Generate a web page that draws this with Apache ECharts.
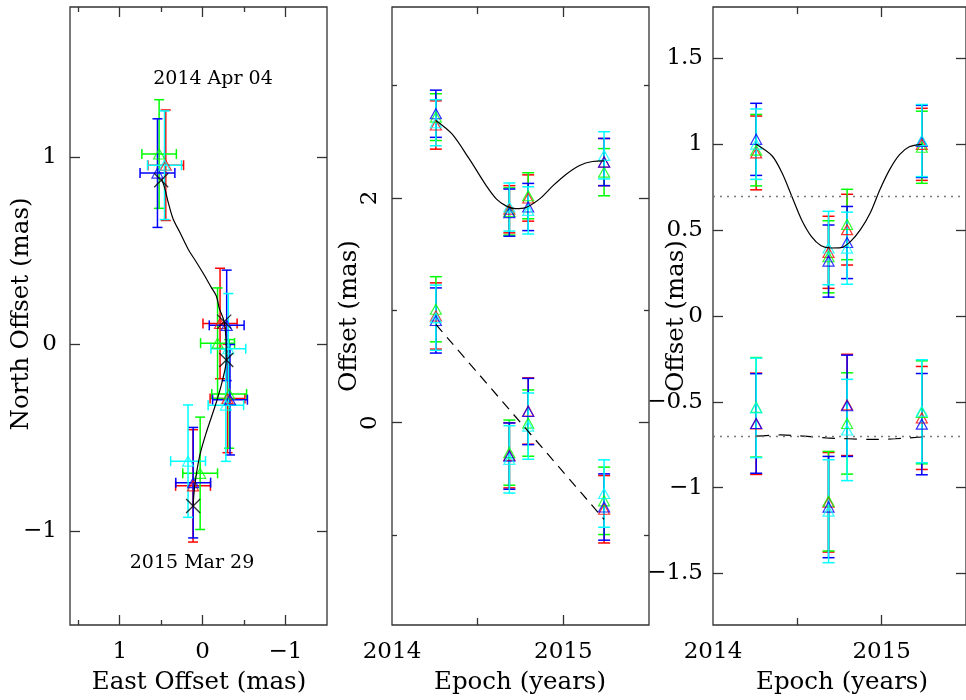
<!DOCTYPE html>
<html>
<head>
<meta charset="utf-8">
<title>Astrometric fit</title>
<script src="https://cdn.jsdelivr.net/npm/echarts@6.0.0/dist/echarts.min.js"></script>
<style>
  html, body { margin: 0; padding: 0; background: #fff; }
  #main { width: 966px; height: 700px; }
</style>
</head>
<body>
<div id="main"></div>
<script>
// bands drawn in this order: red, green, blue, cyan
var bandColors = ['#ff0000', '#00ff00', '#0000ff', '#00ffff'];
var epochs = [2014.256, 2014.685, 2014.795, 2015.238];

// left panel: sky offsets (mas), one row per band
var skyEast = [
  [0.445, -0.300, -0.210, 0.116],
  [0.525, -0.320, -0.180, 0.030],
  [0.545, -0.330, -0.290, 0.114],
  [0.460, -0.280, -0.310, 0.176]
];
var skyNorth = [
  [0.955, -0.290, 0.110, -0.757],
  [1.015, -0.266, 0.005, -0.690],
  [0.913, -0.297, 0.100, -0.740],
  [0.955, -0.326, -0.025, -0.625]
];
var eastErr = [
  [0.215, 0.21, 0.206, 0.21],
  [0.208, 0.21, 0.205, 0.21],
  [0.21, 0.21, 0.21, 0.21],
  [0.205, 0.214, 0.21, 0.21]
];
var northErr = [
  [0.295, 0.29, 0.295, 0.30],
  [0.29, 0.29, 0.295, 0.30],
  [0.29, 0.295, 0.295, 0.295],
  [0.29, 0.30, 0.295, 0.30]
];
// model positions (black crosses) and track
var modelEast = [0.50, -0.26, -0.285, 0.115];
var modelNorth = [0.875, 0.12, -0.085, -0.865];
var trackEast = [0.495, 0.455, 0.416, 0.356, 0.275, 0.176, 0.075, -0.024, -0.104, -0.164, -0.204, -0.26, -0.281, -0.285, -0.243, -0.164, -0.044, 0.036, 0.096, 0.115];
var trackNorth = [0.882, 0.829, 0.758, 0.668, 0.597, 0.508, 0.437, 0.365, 0.303, 0.258, 0.187, 0.12, 0.027, -0.085, -0.187, -0.312, -0.472, -0.597, -0.758, -0.865];

// middle panel: offsets vs epoch (upper = east shifted, lower = north)
var timeEast = [
  [2.65, 1.90, 2.00, 2.32],
  [2.72, 1.88, 2.02, 2.23],
  [2.75, 1.87, 1.92, 2.32],
  [2.67, 1.92, 1.89, 2.38]
];
var timeNorth = [
  [0.95, -0.29, 0.104, -0.77],
  [1.01, -0.266, -0.003, -0.695],
  [0.91, -0.297, 0.10, -0.75],
  [0.935, -0.326, -0.03, -0.63]
];
var timeModelT = [2014.256, 2014.35, 2014.45, 2014.55, 2014.61, 2014.665, 2014.72, 2014.78, 2014.86, 2014.94, 2015.015, 2015.095, 2015.17, 2015.238];
var timeModelEast = [2.69, 2.57, 2.35, 2.11, 1.99, 1.93, 1.905, 1.915, 1.99, 2.11, 2.21, 2.29, 2.325, 2.33];
var timeModelNorthT = [2014.256, 2015.238];
var timeModelNorth = [0.875, -0.86];

// right panel: parallax signature only
var plxEast = [
  [0.95, 0.371, 0.503, 1.0],
  [0.966, 0.345, 0.533, 0.983],
  [1.029, 0.32, 0.428, 1.017],
  [1.001, 0.396, 0.395, 1.022]
];
var plxNorth = [
  [-0.628, -1.085, -0.518, -0.594],
  [-0.532, -1.079, -0.626, -0.561],
  [-0.626, -1.113, -0.523, -0.63],
  [-0.535, -1.137, -0.664, -0.555]
];
var plxModelT = [2014.256, 2014.351, 2014.409, 2014.467, 2014.525, 2014.583, 2014.641, 2014.699, 2014.758, 2014.816, 2014.874, 2014.932, 2014.99, 2015.048, 2015.106, 2015.164, 2015.238];
var plxModelEast = [1.0, 0.932, 0.834, 0.698, 0.561, 0.464, 0.409, 0.396, 0.398, 0.435, 0.503, 0.60, 0.737, 0.854, 0.94, 0.986, 1.0];
var plxModelNorthT = [2014.256, 2014.40, 2014.535, 2014.67, 2014.80, 2014.94, 2015.08, 2015.238];
var plxModelNorth = [-0.70, -0.693, -0.70, -0.71, -0.715, -0.719, -0.715, -0.705];
var plxLevels = [0.7, -0.7];

var FONT = 'DejaVu Serif';
var AXC = '#333';

function fmt(v) {
  return String(Math.round(v * 10) / 10).replace('-', '\u2212');
}

function zip(a, b) {
  var out = [];
  for (var i = 0; i < a.length; i++) out.push([a[i], b[i]]);
  return out;
}

/* one axis: ticks inside, optional labels */
function mkAxis(grid, pos, min, max, ticks, len, labels, lab) {
  var a = {
    type: 'value', gridIndex: grid, position: pos, min: min, max: max,
    axisLine: { show: false, onZero: false },
    splitLine: { show: false },
    axisTick: { show: true, inside: true, length: len, customValues: ticks,
                lineStyle: { color: AXC, width: 1.3 } },
    axisLabel: { show: false }
  };
  if (labels) {
    a.axisLabel = {
      show: true, customValues: labels, formatter: fmt,
      fontFamily: FONT, fontSize: 23, color: '#000',
      margin: lab.margin, rotate: lab.rotate || 0
    };
  }
  return a;
}

var xAxes = [], yAxes = [];
// grid 0: sky plane, east reversed
xAxes.push(mkAxis(0, 'bottom', -1.5, 1.6, [-1, 0, 1], 10, [-1, 0, 1], { margin: 16 }));
xAxes.push(mkAxis(0, 'bottom', -1.5, 1.6, [-0.5, 0.5, 1.5], 5));
xAxes.push(mkAxis(0, 'top', -1.5, 1.6, [-1, 0, 1], 10));
xAxes.push(mkAxis(0, 'top', -1.5, 1.6, [-0.5, 0.5, 1.5], 5));
for (var k = 0; k < 4; k++) xAxes[k].inverse = true;
yAxes.push(mkAxis(0, 'left', -1.5, 1.8, [-1, 0, 1], 10, [-1, 0, 1], { margin: 13 }));
yAxes.push(mkAxis(0, 'right', -1.5, 1.8, [-1, 0, 1], 10));

// grid 1 and 2: epoch axes
[1, 2].forEach(function (g) {
  xAxes.push(mkAxis(g, 'bottom', 2014, 2015.5, [2015], 10, [2014, 2015], { margin: 16 }));
  xAxes.push(mkAxis(g, 'bottom', 2014, 2015.5, [2014.5], 7));
  xAxes.push(mkAxis(g, 'top', 2014, 2015.5, [2015], 10));
  xAxes.push(mkAxis(g, 'top', 2014, 2015.5, [2014.5], 7));
});
// grid 1 y
yAxes.push(mkAxis(1, 'left', -1.8, 3.7, [0, 2], 10, [0, 2], { margin: 10, rotate: 90 }));
yAxes.push(mkAxis(1, 'left', -1.8, 3.7, [-1, 1, 3], 5));
yAxes.push(mkAxis(1, 'right', -1.8, 3.7, [0, 2], 10));
yAxes.push(mkAxis(1, 'right', -1.8, 3.7, [-1, 1, 3], 5));
// grid 2 y
var plxTicks = [-1.5, -1, -0.5, 0, 0.5, 1, 1.5];
yAxes.push(mkAxis(2, 'left', -1.8, 1.8, plxTicks, 10, plxTicks, { margin: 10 }));
yAxes.push(mkAxis(2, 'right', -1.8, 1.8, plxTicks, 10));

var X0 = 0, Y0 = 0, X1 = 4, Y1 = 2, X2 = 8, Y2 = 6;

function seg(x1, y1, x2, y2, color) {
  return { type: 'line', shape: { x1: x1, y1: y1, x2: x2, y2: y2 },
           style: { stroke: color, lineWidth: 1.5 } };
}

/* error bars: data rows are [x, y, xerr, yerr] */
function errorBars(xi, yi, rows, color, cap) {
  return {
    type: 'custom', xAxisIndex: xi, yAxisIndex: yi, data: rows,
    encode: { x: 0, y: 1 }, silent: true,
    renderItem: function (params, api) {
      var x = api.value(0), y = api.value(1), ex = api.value(2), ey = api.value(3);
      var c = api.coord([x, y]);
      var t = api.coord([x, y + ey]), b = api.coord([x, y - ey]);
      var kids = [
        seg(c[0], t[1], c[0], b[1], color),
        seg(c[0] - cap, t[1], c[0] + cap, t[1], color),
        seg(c[0] - cap, b[1], c[0] + cap, b[1], color)
      ];
      if (ex > 0) {
        var l = api.coord([x - ex, y]), r = api.coord([x + ex, y]);
        kids.push(seg(l[0], c[1], r[0], c[1], color));
        kids.push(seg(l[0], c[1] - cap, l[0], c[1] + cap, color));
        kids.push(seg(r[0], c[1] - cap, r[0], c[1] + cap, color));
      }
      return { type: 'group', children: kids };
    }
  };
}

function triangles(xi, yi, pts, color) {
  return {
    type: 'scatter', xAxisIndex: xi, yAxisIndex: yi, data: pts,
    symbol: 'triangle', symbolSize: [11, 10], silent: true,
    itemStyle: { color: 'rgba(0,0,0,0)', borderColor: color, borderWidth: 1.2 }
  };
}

function modelLine(xi, yi, pts, dash) {
  return {
    type: 'line', xAxisIndex: xi, yAxisIndex: yi, data: pts,
    smooth: 0.3, symbol: 'none', silent: true,
    lineStyle: { color: '#000', width: 1.2, type: dash || 'solid' }
  };
}

var series = [];
series.push(modelLine(X0, Y0, zip(trackEast, trackNorth)));
series.push(modelLine(X1, Y1, zip(timeModelT, timeModelEast)));
series.push(modelLine(X1, Y1, zip(timeModelNorthT, timeModelNorth), [10, 7]));
var plxUpper = modelLine(X2, Y2, zip(plxModelT, plxModelEast));
plxUpper.markLine = {
  silent: true, symbol: 'none', label: { show: false },
  lineStyle: { color: '#777', width: 1.3, type: [2, 5] },
  data: plxLevels.map(function (v) { return { yAxis: v }; })
};
series.push(plxUpper);
series.push(modelLine(X2, Y2, zip(plxModelNorthT, plxModelNorth), [13, 9]));

for (var b = 0; b < bandColors.length; b++) {
  var col = bandColors[b];
  var sky = [], tE = [], tN = [], pE = [], pN = [];
  for (var i = 0; i < epochs.length; i++) {
    sky.push([skyEast[b][i], skyNorth[b][i], eastErr[b][i], northErr[b][i]]);
    tE.push([epochs[i], timeEast[b][i], 0, eastErr[b][i]]);
    tN.push([epochs[i], timeNorth[b][i], 0, northErr[b][i]]);
    pE.push([epochs[i], plxEast[b][i], 0, eastErr[b][i]]);
    pN.push([epochs[i], plxNorth[b][i], 0, northErr[b][i]]);
  }
  series.push(errorBars(X0, Y0, sky, col, 5));
  series.push(triangles(X0, Y0, zip(skyEast[b], skyNorth[b]), col));
  series.push(errorBars(X1, Y1, tE, col, 6));
  series.push(errorBars(X1, Y1, tN, col, 6));
  series.push(triangles(X1, Y1, zip(epochs, timeEast[b]), col));
  series.push(triangles(X1, Y1, zip(epochs, timeNorth[b]), col));
  series.push(errorBars(X2, Y2, pE, col, 6));
  series.push(errorBars(X2, Y2, pN, col, 6));
  series.push(triangles(X2, Y2, zip(epochs, plxEast[b]), col));
  series.push(triangles(X2, Y2, zip(epochs, plxNorth[b]), col));
}

series.push({
  type: 'scatter', xAxisIndex: X0, yAxisIndex: Y0, data: zip(modelEast, modelNorth),
  symbol: 'path://M0,0L10,10M10,0L0,10', symbolSize: 14, silent: true,
  itemStyle: { color: 'none', borderColor: '#000', borderWidth: 1.3 }
});

function label(text, x, y, size, rot) {
  return {
    type: 'text', x: x, y: y, rotation: rot || 0, silent: true,
    style: { text: text, fontFamily: FONT, fontSize: size, fill: '#000',
             align: 'center', verticalAlign: 'middle' }
  };
}

var TS = 24.5;
var frame = { show: true, borderColor: AXC, borderWidth: 1.3, backgroundColor: 'transparent' };
var option = {
  animation: false,
  backgroundColor: '#fff',
  grid: [
    Object.assign({ left: 70, top: 7, width: 257, height: 618 }, frame),
    Object.assign({ left: 392, top: 7, width: 257, height: 618 }, frame),
    Object.assign({ left: 713, top: 7, width: 257, height: 618 }, frame)
  ],
  xAxis: xAxes,
  yAxis: yAxes,
  series: series,
  graphic: [
    label('North Offset (mas)', 22, 314, TS, Math.PI / 2),
    label('East Offset (mas)', 199, 683, TS),
    label('Offset (mas)', 350, 316, TS, Math.PI / 2),
    label('Epoch (years)', 520, 683, TS),
    label('Offset (mas)', 677, 316, TS, Math.PI / 2),
    label('Epoch (years)', 842, 683, TS),
    label('2014 Apr 04', 213, 79, 19),
    label('2015 Mar 29', 192, 563, 19)
  ]
};

var chart = echarts.init(document.getElementById('main'));
chart.setOption(option);
</script>
</body>
</html>
